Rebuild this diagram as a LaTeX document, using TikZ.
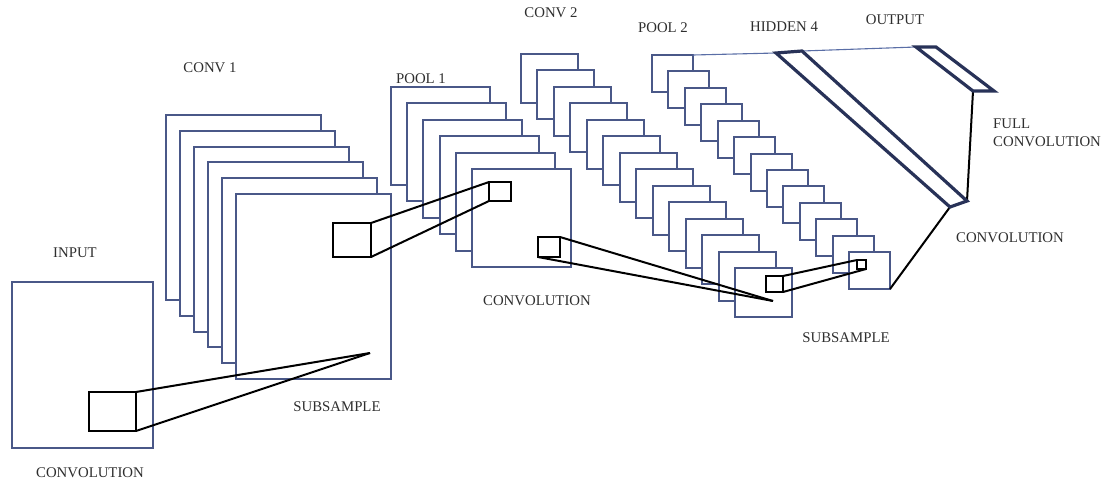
\documentclass[tikz,border=0pt]{standalone}
\usepackage{fontspec}
\setmainfont{Liberation Serif}
\begin{document}
\begin{tikzpicture}[x=1pt,y=-1pt,
  frame/.style={draw=frameblue,line width=2.2pt,fill=white,inner sep=0pt,outer sep=0pt,anchor=north west},
  kbox/.style={draw=black,line width=2pt,fill=white,inner sep=0pt,outer sep=0pt,anchor=north west},
  link/.style={draw=black,line width=2pt},
  thinlink/.style={draw=thinblue,line width=1.1pt},
  layer/.style={draw=navy,line width=3.2pt,line join=miter,fill=white},
  lbl/.style={font=\fontsize{14.8}{17.5}\selectfont,text=txtgray,inner sep=0pt}]
\definecolor{frameblue}{HTML}{4A5888}
\definecolor{navy}{HTML}{283258}
\definecolor{thinblue}{HTML}{5A6EA6}
\definecolor{txtgray}{HTML}{2E2E2E}
\useasboundingbox (0,0) rectangle (1104,483);

% INPUT
\node[frame,minimum width=141pt,minimum height=166pt] (inp) at (12,282) {};
\node[kbox,minimum width=47pt,minimum height=39pt] (kin) at (89,392) {};

% CONV 1 stack
\foreach \i in {0,...,5}{
  \pgfmathsetmacro\fx{round(166+14*\i)}
  \pgfmathsetmacro\fy{round(115+15.8*\i)}
  \node[frame,minimum width=155pt,minimum height=185pt] (c1-\i) at (\fx,\fy) {};
}
\node[kbox,minimum width=38pt,minimum height=34pt] (k1) at (333,223) {};
\coordinate (p1) at (370,353);

% POOL 1 stack
\foreach \i in {0,...,5}{
  \pgfmathsetmacro\fx{round(391+16.2*\i)}
  \pgfmathsetmacro\fy{round(87+16.4*\i)}
  \node[frame,minimum width=99pt,minimum height=98pt] (p1-\i) at (\fx,\fy) {};
}
\node[kbox,minimum width=22pt,minimum height=19pt] (k2) at (489,182) {};
\node[kbox,minimum width=22pt,minimum height=20pt] (k3) at (538,237) {};

% CONV 2 stack
\foreach \i in {0,...,13}{
  \pgfmathsetmacro\fx{round(521+16.46*\i)}
  \pgfmathsetmacro\fy{round(54+16.46*\i)}
  \node[frame,minimum width=57pt,minimum height=49pt] (c2-\i) at (\fx,\fy) {};
}
\node[kbox,minimum width=17pt,minimum height=16pt] (k4) at (766,276) {};
\coordinate (p2) at (773,301);

% POOL 2 stack
\foreach \i in {0,...,12}{
  \pgfmathsetmacro\fx{round(652+16.42*\i)}
  \pgfmathsetmacro\fy{round(55+16.42*\i)}
  \node[frame,minimum width=41pt,minimum height=37pt] (q2-\i) at (\fx,\fy) {};
}
\node[kbox,minimum width=9pt,minimum height=9pt] (k5) at (857,260) {};

% HIDDEN 4 and OUTPUT
\coordinate (h1) at (776,53);
\coordinate (h2) at (802,51);
\coordinate (h3) at (967,201);
\coordinate (h4) at (950,207);
\coordinate (o1) at (916,47);
\coordinate (o2) at (936,47);
\coordinate (o3) at (994,91);
\coordinate (o4) at (973,91);

% connectors
\draw[link] (kin.north east) -- (p1);
\draw[link] (kin.south east) -- (p1);
\draw[link] (k1.north east) -- (k2.north west);
\draw[link] (k1.south east) -- (k2.south west);
\draw[link] (k3.north east) -- (p2);
\draw[link] (k3.south west) -- (p2);
\draw[link] (k4.north east) -- (k5.north west);
\draw[link] (k4.south east) -- (k5.south east);
\draw[link] (q2-12.south east) -- (h4);
\draw[link] (o4) -- (h3);
\draw[thinlink] (q2-0.north east) -- (h1);
\draw[thinlink] (h2) -- (o1);

\draw[layer] (h1) -- (h2) -- (h3) -- (h4) -- cycle;
\draw[layer] (o1) -- (o2) -- (o3) -- (o4) -- cycle;

% labels
\node[lbl] (tin) at (75,253) {INPUT};
\node[lbl] (tconv0) at (90,473) {CONVOLUTION};
\node[lbl] (tsub1) at (337,407) {SUBSAMPLE};
\node[lbl] (tc1) at (210,68) {CONV 1};
\node[lbl] (tp1) at (421,79) {POOL 1};
\node[lbl] (tc2) at (551,13) {CONV 2};
\node[lbl] (tconv1) at (537,301) {CONVOLUTION};
\node[lbl] (tp2) at (663,28) {POOL 2};
\node[lbl] (th4) at (784,27) {HIDDEN 4};
\node[lbl] (tout) at (895,20) {OUTPUT};
\node[lbl,anchor=west,align=left] (tfull) at (993,133) {FULL\\CONVOLUTION};
\node[lbl] (tconv2) at (1010,238) {CONVOLUTION};
\node[lbl] (tsub2) at (846,338) {SUBSAMPLE};
\end{tikzpicture}
\end{document}
